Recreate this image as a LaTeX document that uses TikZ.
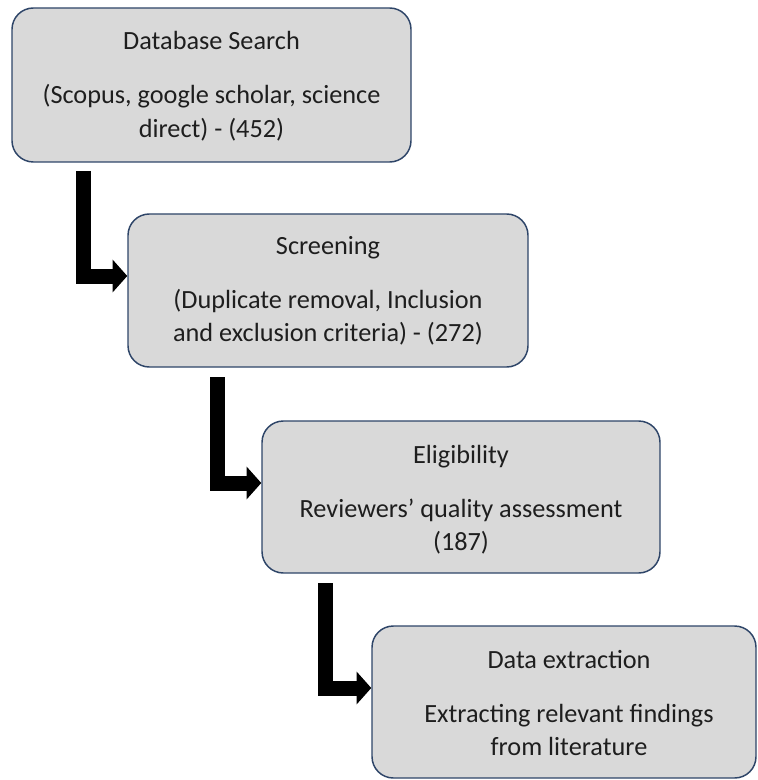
\documentclass[tikz,border=0pt]{standalone}
\usepackage{fontspec}
\setmainfont{Carlito}
\usetikzlibrary{arrows.meta}
\definecolor{boxfill}{HTML}{D9D9D9}
\definecolor{boxline}{HTML}{2E4568}
\definecolor{txt}{HTML}{1E1E1E}
\tikzset{
  stagebox/.style={draw=boxline, fill=boxfill, line width=1.1pt, rounded corners=16pt, inner sep=0pt},
  lbl/.style={anchor=base, inner sep=0pt, text=txt, font=\fontsize{19.7pt}{24pt}\selectfont},
  bigarrow/.style={draw=black, line width=11.25pt, line join=miter, line cap=butt,
    -{Triangle[length=11pt, width=24pt]}}
}
\begin{document}
\begin{tikzpicture}[x=0.75pt,y=-0.75pt]
\useasboundingbox (0,0) rectangle (757,780);
% boxes
\node[stagebox, minimum width=299.25pt, minimum height=115.5pt] (b1) at (211.5,85) {};
\node[stagebox, minimum width=300pt, minimum height=114.75pt] (b2) at (328,290.5) {};
\node[stagebox, minimum width=298.5pt, minimum height=114pt] (b3) at (461,497) {};
\node[stagebox, minimum width=288pt, minimum height=114pt] (b4) at (564,702) {};
% texts
\node[lbl] (t1) at (211.5,50) {Database Search};
\node[lbl] (t1a) at (211.5,104) {(Scopus, google scholar, science};
\node[lbl] (t1b) at (211.5,137.5) {direct) - (452)};
\node[lbl] (t2) at (328,254) {Screening};
\node[lbl] (t2a) at (328,308) {(Duplicate removal, Inclusion};
\node[lbl] (t2b) at (328,341.5) {and exclusion criteria) - (272)};
\node[lbl] (t3) at (461,463) {Eligibility};
\node[lbl] (t3a) at (461,517) {Reviewers’ quality assessment};
\node[lbl] (t3b) at (461,550.5) {(187)};
\node[lbl] (t4) at (569,668) {Data extraction};
\node[lbl] (t4a) at (569,722) {Extracting relevant findings};
\node[lbl] (t4b) at (569,755.5) {from literature};
% connectors
\coordinate (a1s) at (83.5,171);
\coordinate (a1e) at (b2.west |- 0,276);
\coordinate (a2s) at (217.5,377);
\coordinate (a2e) at (b3.west |- 0,483);
\coordinate (a3s) at (325.5,583);
\coordinate (a3e) at (b4.west |- 0,688);
\draw[bigarrow] (a1s) |- (a1e);
\draw[bigarrow] (a2s) |- (a2e);
\draw[bigarrow] (a3s) |- (a3e);
\end{tikzpicture}
\end{document}
